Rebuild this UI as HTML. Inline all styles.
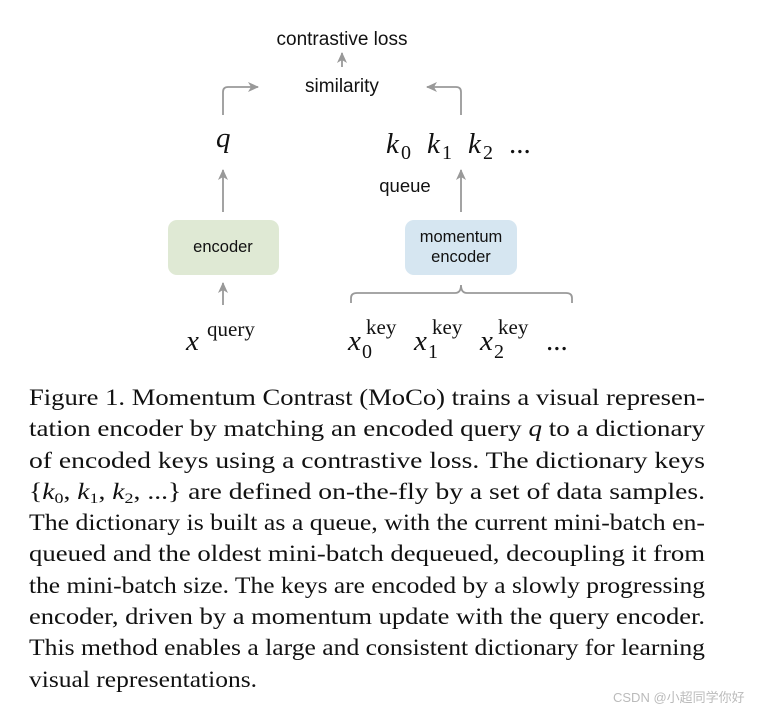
<!DOCTYPE html>
<html><head><meta charset="utf-8"><style>
html,body{margin:0;padding:0;background:#fff;}
svg{display:block;}
.s{font-family:"Liberation Sans",Arial,sans-serif;fill:#111;}
.m{font-family:"Liberation Serif","Times New Roman",Times,serif;fill:#111;}
.c{font-family:"Liberation Serif","Times New Roman",Times,serif;font-size:23px;fill:#111;}
</style></head><body>
<svg width="763" height="711" viewBox="0 0 763 711" xmlns="http://www.w3.org/2000/svg">
<defs><marker id="a" markerWidth="12" markerHeight="12" refX="10" refY="5" orient="auto" markerUnits="userSpaceOnUse"><path d="M0,0 L11,5 L0,10 L3,5 Z" fill="#999"/></marker></defs>
<g stroke="#999" stroke-width="1.8" fill="none">
<line x1="342" y1="67" x2="342" y2="53" marker-end="url(#a)"/>
<path d="M223,115 V92 Q223,87 228,87 H258" marker-end="url(#a)"/>
<path d="M461,115 V92 Q461,87 456,87 H427" marker-end="url(#a)"/>
<line x1="223" y1="212" x2="223" y2="170" marker-end="url(#a)"/>
<line x1="461" y1="212" x2="461" y2="170" marker-end="url(#a)"/>
<line x1="223" y1="305" x2="223" y2="283" marker-end="url(#a)"/>
<path d="M351,303 V298 Q351,293 357,293 H455 Q461,293 461,285 Q461,293 467,293 H566 Q572,293 572,298 V303"/>
</g>
<rect x="168" y="220" width="111" height="55" rx="9" fill="#dfe9d4"/>
<rect x="405" y="220" width="112" height="55" rx="9" fill="#d6e6f1"/>
<text class="s" x="342" y="45" font-size="19" text-anchor="middle">contrastive loss</text>
<text class="s" x="342" y="92" font-size="19" text-anchor="middle">similarity</text>
<text class="s" x="405" y="192" font-size="18.5" text-anchor="middle">queue</text>
<text class="s" x="223" y="252" font-size="16.5" text-anchor="middle">encoder</text>
<text class="s" x="461" y="242" font-size="16.5" text-anchor="middle">momentum</text>
<text class="s" x="461" y="262" font-size="16.5" text-anchor="middle">encoder</text>
<text class="m" x="216" y="147" font-size="29" font-style="italic">q</text>
<g class="m" font-size="29">
<text x="386" y="153" font-style="italic">k</text><text x="401" y="159" font-size="20">0</text>
<text x="427" y="153" font-style="italic">k</text><text x="442" y="159" font-size="20">1</text>
<text x="468" y="153" font-style="italic">k</text><text x="483" y="159" font-size="20">2</text>
<text x="509" y="153">...</text>
<text x="186" y="350" font-style="italic">x</text><text x="207" y="336" font-size="21">query</text>
<text x="348" y="350" font-style="italic">x</text><text x="362" y="358" font-size="20">0</text><text x="366" y="334" font-size="21">key</text>
<text x="414" y="350" font-style="italic">x</text><text x="428" y="358" font-size="20">1</text><text x="432" y="334" font-size="21">key</text>
<text x="480" y="350" font-style="italic">x</text><text x="494" y="358" font-size="20">2</text><text x="498" y="334" font-size="21">key</text>
<text x="546" y="350">...</text>
</g>
<g class="c">
<text x="29" y="405" textLength="676" lengthAdjust="spacingAndGlyphs">Figure 1. Momentum Contrast (MoCo) trains a visual represen-</text>
<text x="29" y="436" textLength="676" lengthAdjust="spacingAndGlyphs">tation encoder by matching an encoded query <tspan font-style="italic">q</tspan> to a dictionary</text>
<text x="29" y="468" textLength="676" lengthAdjust="spacingAndGlyphs">of encoded keys using a contrastive loss.  The dictionary keys</text>
<text x="29" y="499" textLength="676" lengthAdjust="spacingAndGlyphs">{<tspan font-style="italic">k</tspan><tspan font-size="15" dy="4">0</tspan><tspan dy="-4">, </tspan><tspan font-style="italic">k</tspan><tspan font-size="15" dy="4">1</tspan><tspan dy="-4">, </tspan><tspan font-style="italic">k</tspan><tspan font-size="15" dy="4">2</tspan><tspan dy="-4">, ...} are defined on-the-fly by a set of data samples.</tspan></text>
<text x="29" y="530" textLength="676" lengthAdjust="spacingAndGlyphs">The dictionary is built as a queue, with the current mini-batch en-</text>
<text x="29" y="561" textLength="676" lengthAdjust="spacingAndGlyphs">queued and the oldest mini-batch dequeued, decoupling it from</text>
<text x="29" y="593" textLength="676" lengthAdjust="spacingAndGlyphs">the mini-batch size. The keys are encoded by a slowly progressing</text>
<text x="29" y="624" textLength="676" lengthAdjust="spacingAndGlyphs">encoder, driven by a momentum update with the query encoder.</text>
<text x="29" y="655" textLength="676" lengthAdjust="spacingAndGlyphs">This method enables a large and consistent dictionary for learning</text>
<text x="29" y="687" textLength="228" lengthAdjust="spacingAndGlyphs">visual representations.</text>
</g>
<text x="613" y="702" font-family="'Liberation Sans','Noto Sans CJK SC',sans-serif" font-size="13" fill="#bbb">CSDN @小超同学你好</text>
</svg>
</body></html>
